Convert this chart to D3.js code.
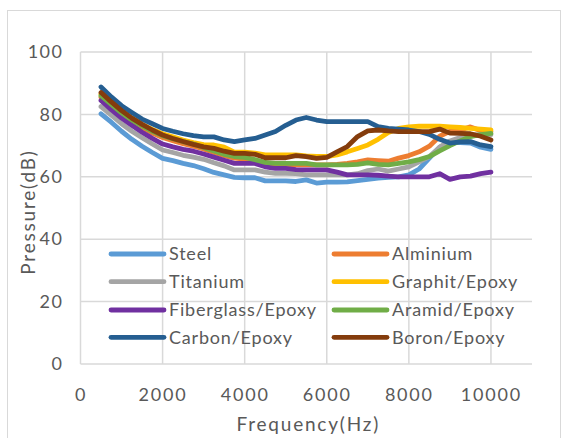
<!DOCTYPE html>
<html><head><meta charset="utf-8">
<script src="https://cdn.jsdelivr.net/npm/d3@7"></script>
<style>body{margin:0;background:#fff}svg{display:block}text{font-family:Lato,"Open Sans",sans-serif;fill:#595959}</style>
</head><body><svg id="c" width="569" height="438"></svg>
<script>
const freqs = d3.range(500, 10001, 250);
const seriesNames = ["Steel","Alminium","Titanium","Graphit/Epoxy","Fiberglass/Epoxy","Aramid/Epoxy","Carbon/Epoxy","Boron/Epoxy"];
const colors = ["#5B9BD5","#ED7D31","#A5A5A5","#FFC000","#7030A0","#70AD47","#255E91","#843C0C"];
const steel = [80.2,77.5,74.6,72,69.8,67.8,65.9,65.2,64.3,63.6,62.6,61.4,60.6,59.8,59.7,59.7,58.7,58.7,58.7,58.5,59,58,58.3,58.3,58.4,58.8,59.2,59.6,59.8,60,60.6,62.5,66,69.5,71,71,70.8,69.5,68.8];
const alminium = [85.5,82.6,80,77.8,75.8,74,72.6,71.6,70.6,69.8,68.9,67.8,66.8,66,65.7,65.2,64.4,64,64,63.8,63.8,63.8,63.8,64,64.3,64.8,65.4,65.2,65,66,66.8,68,69.8,73,74.6,75,76,74.8,74.5];
const titanium = [82.5,79.8,77,74.6,72.5,70.5,68.6,67.8,66.9,66.3,65.6,64.5,63.5,62.2,62.2,62.2,61.5,61.1,61.1,61,60.6,60.6,60.6,60.6,60.6,61,62,62.5,61.8,62.5,63.2,64.8,66.5,69.5,71.5,72.6,73.4,73.5,73.5];
const graphit = [86.5,83.6,81,78.8,76.8,75.2,73.8,72.8,71.8,71,70.3,70.2,69.5,67.9,67.9,67.6,67,67,67,67,66.7,66.5,66.5,67,68,69.1,70.2,72,74.2,75.5,76,76.2,76.2,76.2,76,75.8,75.5,75.3,75];
const fiberglass = [84.5,81.5,78.8,76.5,74.3,72.3,70.5,69.6,68.8,68.2,67.3,66.3,65.3,64.3,64.3,64.3,63.2,62.7,62.7,62.3,62.2,62.2,62.2,61.5,60.6,60.6,60.6,60.5,60.2,60,60,60,60,61,59.2,60,60.2,61,61.5];
const aramid = [86,83.2,80.5,78.2,76.3,74.6,73.2,72.2,71.3,70.5,69.4,68.3,67.2,66.5,66.2,65.5,64.6,64.3,64.3,64.3,64.3,63.8,63.8,63.8,63.8,64,64.5,64,63.8,64.3,64.8,65.5,66.5,68.3,70,71.5,72.9,73.5,73.9];
const carbon = [88.8,85.6,82.8,80.6,78.5,77,75.5,74.6,73.8,73.2,72.8,72.8,71.8,71.3,71.8,72.3,73.4,74.5,76.5,78.2,79,78.2,77.7,77.7,77.7,77.7,77.7,76.1,75.5,75.3,75,74.5,73.6,72,70.8,71.2,71.3,70.2,69.7];
const boron = [87,84,81.2,78.8,76.8,75,73.4,72.3,71.3,70.4,69.6,69.1,68.2,67.5,67.5,67.2,66.1,66.1,66.1,66.8,66.5,65.9,66.2,68,69.7,72.9,74.7,75,74.7,74.5,74.5,74.5,74.5,75.3,74,73.9,73.8,73,71.8];
const seriesValues = [steel,alminium,titanium,graphit,fiberglass,aramid,carbon,boron];
const xTicks = [0,2000,4000,6000,8000,10000];
const yTicks = [0,20,40,60,80,100];

const svg = d3.select("#c");
svg.append("rect").attr("x",7.5).attr("y",10.5).attr("width",553).attr("height",440)
  .attr("fill","#fff").attr("stroke","#d9d9d9").attr("stroke-width",1);

const L=80.5, R=532, T=52, B=364;
const x = d3.scaleLinear().domain([0,11000]).range([L,R]);
const y = d3.scaleLinear().domain([0,100]).range([B,T]);

const g = svg.append("g");
g.selectAll(".hg").data(yTicks).join("line")
  .attr("x1",L).attr("x2",R).attr("y1",d=>y(d)).attr("y2",d=>y(d))
  .attr("stroke","#d9d9d9").attr("stroke-width",1.5);
g.selectAll(".vg").data(xTicks).join("line")
  .attr("y1",T).attr("y2",B).attr("x1",d=>x(d)).attr("x2",d=>x(d))
  .attr("stroke","#d9d9d9").attr("stroke-width",1.5);

const yAxis = svg.append("g").attr("transform",`translate(${L},0)`)
  .call(d3.axisLeft(y).tickValues(yTicks).tickSize(0).tickPadding(17));
yAxis.select(".domain").remove();
yAxis.selectAll("text").style("font-size","18px").style("letter-spacing","1.5px").attr("fill","#595959");

const xAxis = svg.append("g").attr("transform",`translate(0,${B})`)
  .call(d3.axisBottom(x).tickValues(xTicks).tickSize(0).tickPadding(24).tickFormat(d3.format("d")));
xAxis.select(".domain").remove();
xAxis.selectAll("text").style("font-size","18px").style("letter-spacing","1.8px").attr("fill","#595959");

svg.append("text").attr("x",(L+R)/2+2).attr("y",431).attr("text-anchor","middle")
  .style("font-size","19px").style("letter-spacing","1.8px").text("Frequency(Hz)");
svg.append("text").attr("transform","translate(35,212) rotate(-90)").attr("text-anchor","middle")
  .style("font-size","19px").style("letter-spacing","1.8px").text("Pressure(dB)");

const line = d3.line().x((d,i)=>x(freqs[i])).y(d=>y(d)).curve(d3.curveLinear);
svg.append("g").selectAll("path").data(seriesValues).join("path")
  .attr("d",line).attr("fill","none").attr("stroke",(d,i)=>colors[i])
  .attr("stroke-width",4.8).attr("stroke-linejoin","round").attr("stroke-linecap","round");

const leg = svg.append("g");
const colX = [111, 334], rowY = [254, 281.7, 310, 337.3];
seriesNames.forEach((n,i)=>{
  const cx = colX[i%2], cy = rowY[Math.floor(i/2)];
  leg.append("line").attr("x1",cx).attr("x2",cx+53).attr("y1",cy).attr("y2",cy)
    .attr("stroke",colors[i]).attr("stroke-width",4.8).attr("stroke-linecap","round");
  leg.append("text").attr("x",cx+58).attr("y",cy).attr("dy","0.36em")
    .style("font-size","18px").style("letter-spacing","0.8px").text(n);
});
</script></body></html>
